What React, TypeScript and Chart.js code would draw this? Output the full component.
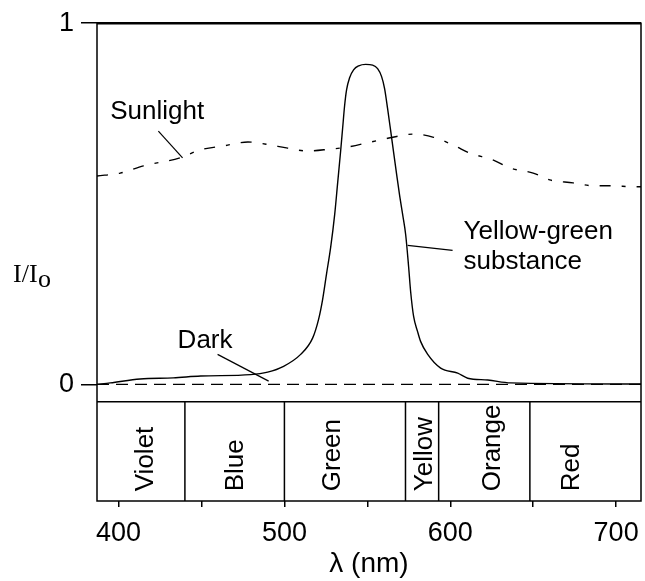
import React, { useEffect, useRef } from "react";
import { Chart, registerables } from "chart.js";

Chart.register(...registerables);

// ---- data ----
const sunlightNm = [387, 401, 415, 437, 449, 463, 478, 489, 502, 514, 527, 538, 552, 563, 578, 590, 602, 612, 626, 636, 650, 660, 674, 686, 698, 710, 715];
const sunlightI = [0.577, 0.585, 0.605, 0.627, 0.649, 0.66, 0.671, 0.665, 0.654, 0.646, 0.651, 0.657, 0.671, 0.682, 0.693, 0.684, 0.662, 0.64, 0.621, 0.599, 0.585, 0.566, 0.558, 0.55, 0.55, 0.547, 0.547];

const substanceNm = [387, 395, 413, 433, 449.5, 479.6, 489.9, 499.5, 509.8, 517, 520.6, 523, 525.4, 527.9, 530.3, 532.1, 533.9, 535.1, 536.3, 537.5, 539.3, 541.7, 544.8, 549, 553.2, 556.2, 558.6, 560.4, 562.2, 564.1, 565.9, 567.7, 569.5, 571.3, 573.1, 574.9, 576.1, 577.9, 580.3, 582.1, 586.4, 594.2, 604.5, 610.5, 622.6, 636.4, 715];
const substanceI = [0.0, 0.004, 0.015, 0.018, 0.023, 0.027, 0.034, 0.05, 0.083, 0.128, 0.18, 0.234, 0.306, 0.38, 0.47, 0.558, 0.646, 0.709, 0.772, 0.816, 0.849, 0.871, 0.882, 0.886, 0.884, 0.874, 0.852, 0.819, 0.764, 0.701, 0.64, 0.58, 0.522, 0.47, 0.415, 0.325, 0.257, 0.188, 0.146, 0.119, 0.083, 0.045, 0.031, 0.017, 0.012, 0.004, 0.001];

const darkNm = [387, 715];
const darkI = [0, 0];

const xTickValues = [400, 450, 500, 550, 600, 650, 700];
const xTickLabels = ["400", "", "500", "", "600", "", "700"];
const yTickValues = [0, 1];
const yTickLabels = ["0", "1"];

const bandNames = ["Violet", "Blue", "Green", "Yellow", "Orange", "Red"];
const bandEdges = [387, 440, 500, 573, 593, 648, 715];
const bandLabelNm = [415, 469, 528, 583, 624, 672];

// ---- layout of the annotations (data units) ----
const X_MIN = 387;
const X_MAX = 715;
const Y_MIN = -0.323;
const Y_MAX = 1;
const BAND_TOP = -0.048;
const BAND_TEXT_START = -0.296;

const notes = [
  { lines: ["Sunlight"], x: 395, y: 0.736, from: [424, 0.701], to: [438.6, 0.627] },
  { lines: ["Dark"], x: 435.6, y: 0.0997, from: [459.7, 0.083], to: [490.5, 0.009] },
  { lines: ["Yellow-green", "substance"], x: 608, y: 0.402, from: [601.4, 0.371], to: [574.3, 0.385] },
];

const SANS = '"Liberation Sans", Arial, sans-serif';
const SERIF = '"Liberation Serif", "Times New Roman", serif';

const pts = (xs: number[], ys: number[]) => xs.map((x, i) => ({ x, y: ys[i] }));

const decorPlugin = {
  id: "decor",
  afterDatasetsDraw(chart: any) {
    const { ctx, chartArea } = chart;
    const xs = chart.scales.x;
    const ys = chart.scales.y;
    const px = (v: number) => xs.getPixelForValue(v);
    const py = (v: number) => ys.getPixelForValue(v);
    ctx.save();
    ctx.strokeStyle = "#000";
    ctx.fillStyle = "#000";
    ctx.setLineDash([]);

    // frame
    ctx.lineWidth = 1.5;
    ctx.strokeRect(chartArea.left, chartArea.top, chartArea.right - chartArea.left, chartArea.bottom - chartArea.top);
    ctx.lineWidth = 2.5;
    ctx.beginPath();
    ctx.moveTo(chartArea.left, chartArea.top);
    ctx.lineTo(chartArea.right, chartArea.top);
    ctx.stroke();

    // band box
    ctx.lineWidth = 1.5;
    ctx.beginPath();
    ctx.moveTo(chartArea.left, py(BAND_TOP));
    ctx.lineTo(chartArea.right, py(BAND_TOP));
    for (let i = 1; i < bandEdges.length - 1; i++) {
      ctx.moveTo(px(bandEdges[i]), py(BAND_TOP));
      ctx.lineTo(px(bandEdges[i]), chartArea.bottom);
    }
    ctx.stroke();

    // band labels (rotated)
    ctx.font = `26px ${SANS}`;
    ctx.textAlign = "left";
    ctx.textBaseline = "alphabetic";
    bandNames.forEach((name, i) => {
      ctx.save();
      ctx.translate(px(bandLabelNm[i]) + 9.5, py(BAND_TEXT_START));
      ctx.rotate(-Math.PI / 2);
      ctx.fillText(name, 0, 0);
      ctx.restore();
    });

    // annotations
    ctx.lineWidth = 1.2;
    notes.forEach((n) => {
      n.lines.forEach((t, k) => ctx.fillText(t, px(n.x), py(n.y) + k * 30));
      ctx.beginPath();
      ctx.moveTo(px(n.from[0]), py(n.from[1]));
      ctx.lineTo(px(n.to[0]), py(n.to[1]));
      ctx.stroke();
    });

    // y-axis title I/Io
    const tx = chartArea.left - 84;
    const tyb = py(0.284);
    ctx.font = `26px ${SERIF}`;
    ctx.fillText("I/I", tx, tyb);
    const w = ctx.measureText("I/I").width;
    ctx.fillText("o", tx + w + 0.5, tyb + 5);
    ctx.restore();
  },
};

export default function App() {
  const ref = useRef<HTMLCanvasElement | null>(null);
  useEffect(() => {
    document.body.style.margin = "0";
    if (!ref.current) return;
    const chart = new Chart(ref.current, {
      type: "line",
      data: {
        datasets: [
          {
            label: "Dark",
            data: pts(darkNm, darkI),
            borderColor: "#000",
            borderWidth: 1.4,
            borderDash: [12, 7],
            pointRadius: 0,
            fill: false,
          },
          {
            label: "Sunlight",
            data: pts(sunlightNm, sunlightI),
            borderColor: "#000",
            borderWidth: 1.4,
            borderDash: [11, 11, 4, 11],
            pointRadius: 0,
            cubicInterpolationMode: "monotone",
            fill: false,
          },
          {
            label: "Yellow-green substance",
            data: pts(substanceNm, substanceI),
            borderColor: "#000",
            borderWidth: 1.4,
            pointRadius: 0,
            cubicInterpolationMode: "monotone",
            fill: false,
          },
        ],
      },
      options: {
        responsive: false,
        animation: false,
        parsing: true,
        layout: { padding: { top: 19, right: 4, left: 0, bottom: 0 } },
        plugins: { legend: { display: false }, tooltip: { enabled: false } },
        scales: {
          x: {
            type: "linear",
            min: X_MIN,
            max: X_MAX,
            afterBuildTicks: (s: any) => {
              s.ticks = xTickValues.map((v) => ({ value: v }));
            },
            afterFit: (s: any) => {
              s.height = 80;
              s.paddingLeft = 0;
              s.paddingRight = 0;
            },
            ticks: {
              autoSkip: false,
              maxRotation: 0,
              padding: 10,
              color: "#000",
              font: { size: 27, family: SANS },
              callback: (_v: any, i: number) => xTickLabels[i],
            },
            grid: { drawOnChartArea: false, drawTicks: true, tickLength: 6, color: "#000", lineWidth: 1.5 },
            border: { display: false },
            title: {
              display: true,
              text: "λ (nm)",
              color: "#000",
              font: { size: 28, family: SANS },
              padding: { top: 0, bottom: 0 },
            },
          },
          y: {
            type: "linear",
            min: Y_MIN,
            max: Y_MAX,
            afterBuildTicks: (s: any) => {
              s.ticks = yTickValues.map((v) => ({ value: v }));
            },
            afterFit: (s: any) => {
              s.width = 97;
            },
            ticks: {
              padding: 7,
              color: "#000",
              font: { size: 27, family: SANS },
              callback: (_v: any, i: number) => yTickLabels[i],
            },
            grid: { drawOnChartArea: false, drawTicks: true, tickLength: 16, color: "#000", lineWidth: 1.5 },
            border: { display: false },
          },
        },
      },
      plugins: [decorPlugin],
    } as any);
    return () => chart.destroy();
  }, []);
  return (
    <div style={{ width: 645, height: 581, background: "#fff" }}>
      <canvas ref={ref} width={645} height={581} style={{ display: "block" }} />
    </div>
  );
}
